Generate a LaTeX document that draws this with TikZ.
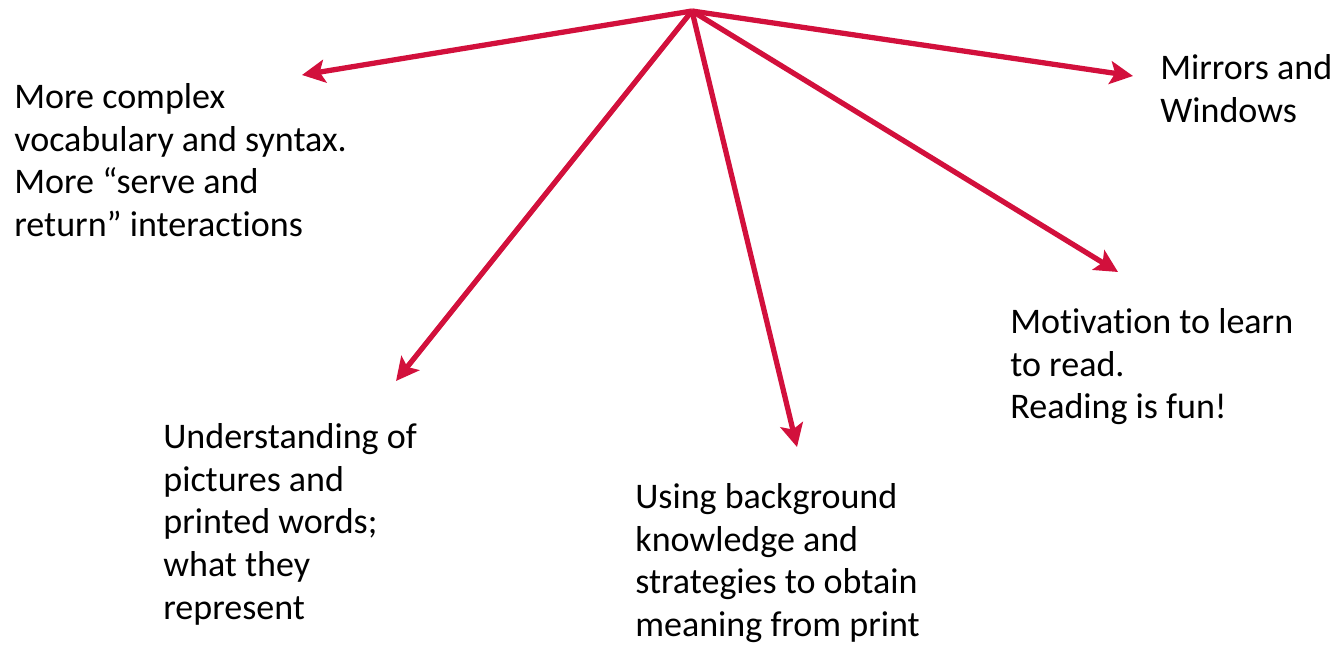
\documentclass[tikz,border=0pt]{standalone}
\usepackage{fontspec}
\setmainfont[Ligatures=NoCommon]{Carlito}
\usetikzlibrary{arrows.meta, positioning}
\definecolor{arrowred}{RGB}{210,16,60}

\begin{document}
\begin{tikzpicture}[x=0.02cm, y=-0.02cm,
  label/.style={anchor=north west, inner sep=0pt, align=left, font=\fontsize{20.5}{24.3}\selectfont},
  arrow/.style={draw=arrowred, line width=3pt, -{Stealth[length=4.6mm, width=4.6mm, inset=1mm]}}
]
  \useasboundingbox (0,0) rectangle (1337,645);

  % hub and arrow tips
  \coordinate (hub) at (692,11);
  \coordinate (tipvocab) at (302,75);
  \coordinate (tipmirror) at (1133,76);
  \coordinate (tippict) at (396,381);
  \coordinate (tipbg) at (797,447);
  \coordinate (tipmotiv) at (1118,272);

  % labels
  \node[label] (vocab) at (14,83) {More complex\\vocabulary and syntax.\\More ``serve and\\return'' interactions};
  \node[label] (mirror) at (1160,54) {Mirrors and\\Windows};
  \node[label] (motiv) at (1010,308) {Motivation to learn\\to read.\\Reading is fun!};
  \node[label] (pict) at (163,423) {Understanding of\\pictures and\\printed words;\\what they\\represent};
  \node[label] (bg) at (635,483) {Using background\\knowledge and\\strategies to obtain\\meaning from print};

  % arrows
  \draw[arrow] (hub) -- (tipvocab);
  \draw[arrow] (hub) -- (tipmirror);
  \draw[arrow] (hub) -- (tippict);
  \draw[arrow] (hub) -- (tipbg);
  \draw[arrow] (hub) -- (tipmotiv);
\end{tikzpicture}
\end{document}
